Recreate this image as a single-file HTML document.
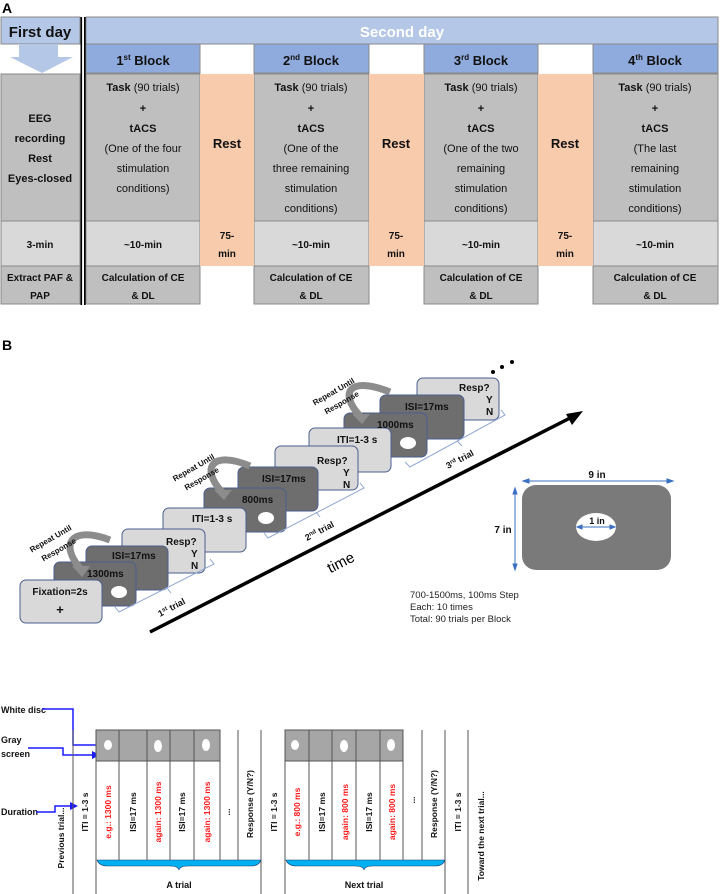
<!DOCTYPE html>
<html><head><meta charset="utf-8"><style>
html,body{margin:0;padding:0;background:#fff}
svg{display:block}
text{font-family:"Liberation Sans","DejaVu Sans",sans-serif}
.b{font-weight:bold}
</style></head><body>
<svg width="721" height="894" viewBox="0 0 721 894" xmlns="http://www.w3.org/2000/svg">
<!-- PANEL A -->
<text x="2" y="13" font-family="Liberation Serif" font-weight="bold" font-size="14">A</text>
<g stroke="#8a8a8a" stroke-width="1">
<rect x="1" y="17" width="79" height="27" fill="#b4c7e7"/>
<rect x="86" y="17" width="632" height="27" fill="#b4c7e7"/>
<rect x="86" y="44" width="114" height="29" fill="#8faadc"/>
<rect x="254" y="44" width="115" height="29" fill="#8faadc"/>
<rect x="424" y="44" width="114" height="29" fill="#8faadc"/>
<rect x="593" y="44" width="125" height="29" fill="#8faadc"/>
<rect x="1" y="74" width="79" height="147" fill="#bfbfbf"/>
<rect x="86" y="74" width="114" height="147" fill="#bfbfbf"/>
<rect x="254" y="74" width="115" height="147" fill="#bfbfbf"/>
<rect x="424" y="74" width="114" height="147" fill="#bfbfbf"/>
<rect x="593" y="74" width="125" height="147" fill="#bfbfbf"/>
<rect x="1" y="221" width="79" height="45" fill="#d9d9d9"/>
<rect x="86" y="221" width="114" height="45" fill="#d9d9d9"/>
<rect x="254" y="221" width="115" height="45" fill="#d9d9d9"/>
<rect x="424" y="221" width="114" height="45" fill="#d9d9d9"/>
<rect x="593" y="221" width="125" height="45" fill="#d9d9d9"/>
<rect x="1" y="266" width="79" height="38" fill="#bfbfbf"/>
<rect x="86" y="266" width="114" height="38" fill="#bfbfbf"/>
<rect x="254" y="266" width="115" height="38" fill="#bfbfbf"/>
<rect x="424" y="266" width="114" height="38" fill="#bfbfbf"/>
<rect x="593" y="266" width="125" height="38" fill="#bfbfbf"/>
</g>
<g fill="#f8cbad">
<rect x="200" y="74" width="54" height="192"/>
<rect x="369" y="74" width="55" height="192"/>
<rect x="538" y="74" width="55" height="192"/>
</g>
<polygon points="19,44 58,44 58,57 73,57 42,73 10,57 19,57" fill="#b4c7e7"/>
<rect x="80.5" y="17" width="1.6" height="288" fill="#000"/><rect x="84" y="17" width="1.6" height="288" fill="#000"/>
<g class="b" text-anchor="middle" fill="#111">
<text x="40" y="37" font-size="15">First day</text>
<text x="402" y="37" font-size="15" fill="#fff">Second day</text>
<text x="143" y="65" font-size="13">1<tspan font-size="8" dy="-5">st</tspan><tspan dy="5"> Block</tspan></text>
<text x="311" y="65" font-size="13">2<tspan font-size="8" dy="-5">nd</tspan><tspan dy="5"> Block</tspan></text>
<text x="481" y="65" font-size="13">3<tspan font-size="8" dy="-5">rd</tspan><tspan dy="5"> Block</tspan></text>
<text x="655" y="65" font-size="13">4<tspan font-size="8" dy="-5">th</tspan><tspan dy="5"> Block</tspan></text>
<g font-size="11"><text x="40" y="122">EEG</text><text x="40" y="142">recording</text><text x="40" y="162">Rest</text><text x="40" y="182">Eyes-closed</text></g>
<g font-size="13"><text x="227" y="148">Rest</text><text x="396" y="148">Rest</text><text x="565" y="148">Rest</text></g>
<g font-size="10"><text x="40" y="248">3-min</text><text x="143" y="248">~10-min</text><text x="311" y="248">~10-min</text><text x="481" y="248">~10-min</text><text x="655" y="248">~10-min</text>
<text x="227" y="239">75-</text><text x="227" y="257">min</text><text x="396" y="239">75-</text><text x="396" y="257">min</text><text x="565" y="239">75-</text><text x="565" y="257">min</text>
<text x="40" y="281">Extract PAF &amp;</text><text x="40" y="299">PAP</text>
<text x="143" y="281">Calculation of CE</text><text x="143" y="299">&amp; DL</text>
<text x="311" y="281">Calculation of CE</text><text x="311" y="299">&amp; DL</text>
<text x="481" y="281">Calculation of CE</text><text x="481" y="299">&amp; DL</text>
<text x="655" y="281">Calculation of CE</text><text x="655" y="299">&amp; DL</text></g>
</g>
<g text-anchor="middle" font-size="11" fill="#111">
<text x="143" y="91"><tspan font-weight="bold">Task</tspan> (90 trials)</text><text x="143" y="112" font-weight="bold">+</text><text x="143" y="132" font-weight="bold">tACS</text><text x="143" y="152">(One of the four</text><text x="143" y="172">stimulation</text><text x="143" y="192">conditions)</text>
<text x="311" y="91"><tspan font-weight="bold">Task</tspan> (90 trials)</text><text x="311" y="112" font-weight="bold">+</text><text x="311" y="132" font-weight="bold">tACS</text><text x="311" y="152">(One of the</text><text x="311" y="172">three remaining</text><text x="311" y="192">stimulation</text><text x="311" y="212">conditions)</text>
<text x="481" y="91"><tspan font-weight="bold">Task</tspan> (90 trials)</text><text x="481" y="112" font-weight="bold">+</text><text x="481" y="132" font-weight="bold">tACS</text><text x="481" y="152">(One of the two</text><text x="481" y="172">remaining</text><text x="481" y="192">stimulation</text><text x="481" y="212">conditions)</text>
<text x="655" y="91"><tspan font-weight="bold">Task</tspan> (90 trials)</text><text x="655" y="112" font-weight="bold">+</text><text x="655" y="132" font-weight="bold">tACS</text><text x="655" y="152">(The last</text><text x="655" y="172">remaining</text><text x="655" y="192">stimulation</text><text x="655" y="212">conditions)</text>
</g>

<!-- PANEL B -->
<text x="2" y="350" font-family="Liberation Serif" font-weight="bold" font-size="14">B</text>
<line x1="150" y1="632" x2="574" y2="416" stroke="#000" stroke-width="3.5"/>
<polygon points="583,411 566,414 572,425" fill="#000"/>
<text x="343" y="567" font-size="15" transform="rotate(-27 343 567)" text-anchor="middle">time</text>
<circle cx="493" cy="372" r="2" fill="#000"/><circle cx="502" cy="367" r="2" fill="#000"/><circle cx="512" cy="362" r="2" fill="#000"/>
<g stroke="#4a5f8f" stroke-width="1">
<rect x="417" y="378" width="82" height="42" rx="6" fill="#d9d9d9"/>
<rect x="380" y="395" width="84" height="44" rx="6" fill="#6e6e6e"/>
<rect x="344" y="413" width="83" height="44" rx="6" fill="#6e6e6e"/>
<rect x="309" y="428" width="82" height="44" rx="6" fill="#d9d9d9"/>
<rect x="275" y="446" width="83" height="44" rx="6" fill="#d9d9d9"/>
<rect x="238" y="467" width="80" height="44" rx="6" fill="#6e6e6e"/>
<rect x="204" y="488" width="82" height="44" rx="6" fill="#6e6e6e"/>
<rect x="163" y="508" width="83" height="44" rx="6" fill="#d9d9d9"/>
<rect x="122" y="529" width="83" height="44" rx="6" fill="#d9d9d9"/>
<rect x="86" y="546" width="82" height="44" rx="6" fill="#6e6e6e"/>
<rect x="54" y="562" width="82" height="44" rx="6" fill="#6e6e6e"/>
<rect x="20" y="580" width="82" height="43" rx="6" fill="#d9d9d9"/>
</g>
<g fill="#fff"><ellipse cx="119" cy="592" rx="8" ry="6"/><ellipse cx="266" cy="518" rx="8" ry="6"/><ellipse cx="408" cy="443" rx="8" ry="6"/></g>
<g class="b" font-size="10" fill="#111">
<text x="60" y="595" text-anchor="middle">Fixation=2s</text><text x="60" y="614" text-anchor="middle" font-size="13">+</text>
<text x="87" y="577">1300ms</text><text x="112" y="559">ISI=17ms</text>
<text x="166" y="545">Resp?</text><text x="191" y="557">Y</text><text x="191" y="569">N</text>
<text x="192" y="522">ITI=1-3 s</text><text x="242" y="503">800ms</text><text x="262" y="482">ISI=17ms</text>
<text x="317" y="464">Resp?</text><text x="343" y="476">Y</text><text x="343" y="488">N</text>
<text x="337" y="443">ITI=1-3 s</text><text x="377" y="428">1000ms</text><text x="405" y="410">ISI=17ms</text>
<text x="459" y="391">Resp?</text><text x="486" y="403">Y</text><text x="486" y="415">N</text>
</g>
<g fill="none" stroke="#8c8c8c" stroke-width="7">
<path d="M80,568 C60,545 70,525 110,540"/>
<path d="M222,492 C200,468 212,450 250,466"/>
<path d="M360,416 C338,392 350,376 390,392"/>
</g>
<g fill="#8c8c8c"><polygon points="72,566 90,566 82,577"/><polygon points="214,490 232,490 224,500"/><polygon points="352,414 370,414 362,424"/></g>
<g class="b" font-size="8" fill="#111" text-anchor="middle">
<text transform="translate(52,541) rotate(-30)">Repeat Until</text><text transform="translate(60,552) rotate(-30)">Response</text>
<text transform="translate(195,470) rotate(-30)">Repeat Until</text><text transform="translate(203,481) rotate(-30)">Response</text>
<text transform="translate(335,394) rotate(-30)">Repeat Until</text><text transform="translate(343,405) rotate(-30)">Response</text>
</g>
<g fill="none" stroke="#8fa6d4" stroke-width="1">
<polyline points="115,607 119,612 214,564 210,559"/><line x1="167" y1="588" x2="171" y2="593"/>
<polyline points="264,533 268,538 364,488 360,483"/><line x1="316" y1="512" x2="320" y2="517"/>
<polyline points="405,462 410,467 505,415 501,410"/><line x1="457" y1="441" x2="462" y2="446"/>
</g>
<g class="b" font-size="9" fill="#111">
<text transform="translate(160,617) rotate(-28)">1<tspan font-size="6" dy="-3">st</tspan><tspan dy="3"> trial</tspan></text>
<text transform="translate(307,541) rotate(-28)">2<tspan font-size="6" dy="-3">nd</tspan><tspan dy="3"> trial</tspan></text>
<text transform="translate(448,469) rotate(-28)">3<tspan font-size="6" dy="-3">rd</tspan><tspan dy="3"> trial</tspan></text>
</g>
<rect x="522" y="485" width="149" height="85" rx="14" fill="#7a7a7a"/>
<ellipse cx="596" cy="527" rx="20" ry="14" fill="#fff"/>
<g stroke="#3a6fc4" stroke-width="1" fill="#3a6fc4">
<line x1="526" y1="481" x2="670" y2="481"/><polygon points="523,481 529,479 529,483"/><polygon points="673,481 667,479 667,483"/>
<line x1="515" y1="491" x2="515" y2="567"/><polygon points="515,488 513,494 517,494"/><polygon points="515,570 513,564 517,564"/>
<line x1="580" y1="527" x2="612" y2="527"/><polygon points="577,527 582,525 582,529"/><polygon points="615,527 610,525 610,529"/>
</g>
<g class="b" font-size="10" fill="#111" text-anchor="middle"><text x="597" y="478">9 in</text><text x="503" y="533">7 in</text><text x="597" y="524" font-size="9">1 in</text></g>
<g font-size="9.5" fill="#222"><text x="410" y="598">700-1500ms, 100ms Step</text><text x="410" y="610">Each: 10 times</text><text x="410" y="622">Total: 90 trials per Block</text></g>

<!-- PANEL C -->
<g class="b" font-size="9" fill="#111"><text x="1" y="713">White disc</text><text x="1" y="743">Gray</text><text x="1" y="757">screen</text><text x="1" y="815">Duration</text></g>
<g fill="none" stroke="#1a1aff" stroke-width="1.5">
<polyline points="42,709 73,709 73,745 100,745"/><polyline points="28,748 63,748 63,755 96,755"/><polyline points="36,812 55,812 55,806 74,806"/>
</g>
<g fill="#1a1aff"><polygon points="104,745 96,741 96,749"/><polygon points="100,755 92,751 92,759"/><polygon points="78,806 70,802 70,810"/></g>
<rect x="96" y="730" width="124" height="31" fill="#a6a6a6" stroke="#555"/>
<rect x="285" y="730" width="118" height="31" fill="#a6a6a6" stroke="#555"/>
<g stroke="#555" stroke-width="1">
<line x1="73" y1="730" x2="73" y2="894"/>
<line x1="96" y1="730" x2="96" y2="894"/><line x1="119" y1="730" x2="119" y2="860"/><line x1="147" y1="730" x2="147" y2="860"/><line x1="170" y1="730" x2="170" y2="860"/><line x1="194" y1="730" x2="194" y2="860"/><line x1="220" y1="730" x2="220" y2="860"/><line x1="238" y1="730" x2="238" y2="860"/><line x1="261" y1="730" x2="261" y2="894"/>
<line x1="285" y1="730" x2="285" y2="894"/><line x1="309" y1="730" x2="309" y2="860"/><line x1="332" y1="730" x2="332" y2="860"/><line x1="356" y1="730" x2="356" y2="860"/><line x1="380" y1="730" x2="380" y2="860"/><line x1="403" y1="730" x2="403" y2="860"/><line x1="422" y1="730" x2="422" y2="860"/><line x1="445" y1="730" x2="445" y2="894"/>
<line x1="468" y1="730" x2="468" y2="894"/>
</g>
<g fill="#fff"><ellipse cx="108" cy="745" rx="4" ry="5"/><ellipse cx="158" cy="746" rx="4" ry="6"/><ellipse cx="206" cy="745" rx="4" ry="6"/><ellipse cx="295" cy="745" rx="4" ry="5"/><ellipse cx="344" cy="746" rx="4" ry="6"/><ellipse cx="391" cy="745" rx="4" ry="6"/></g>
<g fill="#00b0f0" stroke="#1a3a6a" stroke-width="0.6">
<path d="M97,860 Q99,866 108,866 L170,866 Q178,866 179,870 Q180,866 188,866 L251,866 Q259,866 261,860 Z"/>
<path d="M286,860 Q288,866 297,866 L355,866 Q363,866 364,870 Q365,866 373,866 L435,866 Q443,866 445,860 Z"/>
</g>
<g class="b" font-size="9" fill="#111" text-anchor="middle"><text x="179" y="888">A trial</text><text x="364" y="888">Next trial</text></g>
<g class="b" font-size="8.5" text-anchor="middle" fill="#111">
<text transform="translate(64,838) rotate(-90)">Previous trial...</text>
<text transform="translate(88,812) rotate(-90)">ITI = 1-3 s</text>
<text transform="translate(111,812) rotate(-90)" fill="#ff1a1a">e.g.: 1300 ms</text>
<text transform="translate(136,812) rotate(-90)">ISI=17 ms</text>
<text transform="translate(161,812) rotate(-90)" fill="#ff1a1a">again: 1300 ms</text>
<text transform="translate(185,812) rotate(-90)">ISI=17 ms</text>
<text transform="translate(210,812) rotate(-90)" fill="#ff1a1a">again: 1300 ms</text>
<text transform="translate(230,812) rotate(-90)">...</text>
<text transform="translate(253,804) rotate(-90)">Response (Y/N?)</text>
<text transform="translate(277,812) rotate(-90)">ITI = 1-3 s</text>
<text transform="translate(300,812) rotate(-90)" fill="#ff1a1a">e.g.: 800 ms</text>
<text transform="translate(325,812) rotate(-90)">ISI=17 ms</text>
<text transform="translate(348,812) rotate(-90)" fill="#ff1a1a">again: 800 ms</text>
<text transform="translate(372,812) rotate(-90)">ISI=17 ms</text>
<text transform="translate(395,812) rotate(-90)" fill="#ff1a1a">again: 800 ms</text>
<text transform="translate(415,800) rotate(-90)">...</text>
<text transform="translate(437,804) rotate(-90)">Response (Y/N?)</text>
<text transform="translate(461,812) rotate(-90)">ITI = 1-3 s</text>
<text transform="translate(484,836) rotate(-90)">Toward the next trial...</text>
</g>
</svg>
</body></html>
